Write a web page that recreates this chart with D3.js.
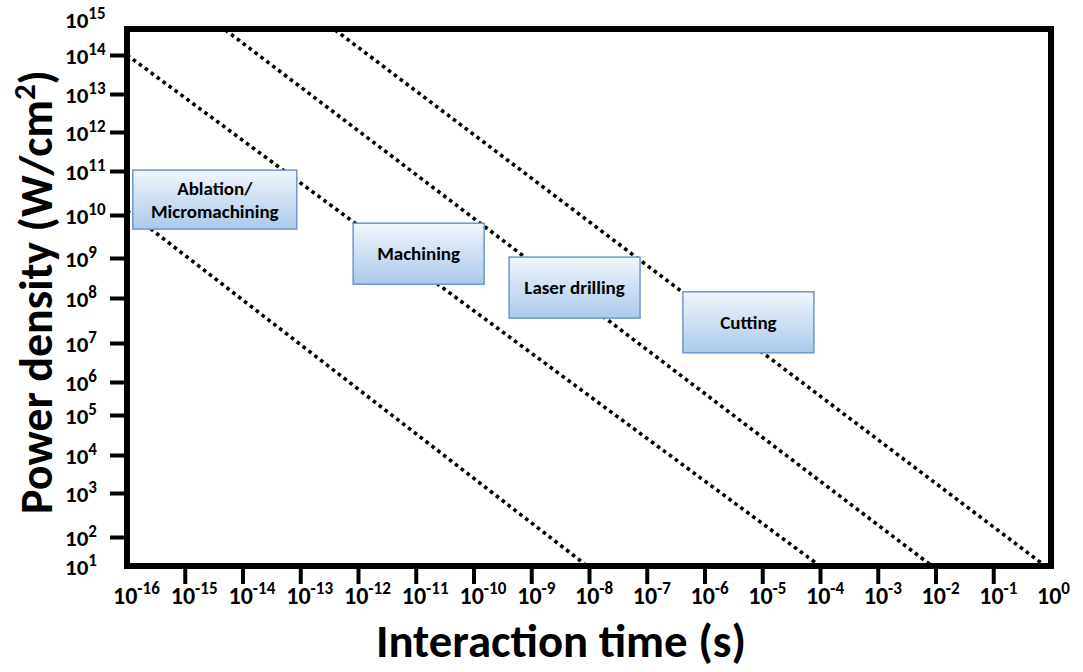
<!DOCTYPE html>
<html><head><meta charset="utf-8">
<script src="https://cdn.jsdelivr.net/npm/d3@7"></script>
<style>
body{margin:0;background:#fff}
svg{display:block}
text{font-family:Carlito, Lato, "Open Sans", sans-serif;font-weight:700;fill:#000}
</style>
</head><body>
<svg id="chart" width="1083" height="672"></svg>
<script>
// ---------------- data ----------------
const xTickExponents = [-16,-15,-14,-13,-12,-11,-10,-9,-8,-7,-6,-5,-4,-3,-2,-1,0];
const yTickExponents = [1,2,3,4,5,6,7,8,9,10,11,12,13,14,15];
const xAxisTitle = "Interaction time (s)";
const yAxisTitle = "Power density (W/cm";
// dotted guide lines, in log10 units (start -> end)
const lineStartX = [-16, -16, -14.3, -12.4];
const lineStartY = [10.1, 14, 14.7, 14.7];
const lineEndX   = [-8.03, -4.0, -2.06, -0.1];
const lineEndY   = [1, 1, 1, 1];
// regime boxes: label lines and centre in log10 units
const regionLabels = [["Ablation/","Micromachining"],["Machining"],["Laser drilling"],["Cutting"]];
const regionCenterX = [-14.48, -10.95, -8.25, -5.24];
const regionCenterY = [10.35, 9.10, 8.26, 7.46];

// ---------------- layout ----------------
const plotLeft = 127, plotRight = 1051, plotTop = 29, plotBottom = 566;
// the drawn y axis is hand-spaced: piecewise stops for each decade 1..15
const yStops = [566, 537, 493, 455, 415, 382, 343, 298, 258, 215, 171, 132, 94, 55, 19];
const boxW = [164, 131, 131, 131], boxH = [59, 61, 61, 61];

const svg = d3.select("#chart");
const x = d3.scaleLinear().domain([-16, 0]).range([plotLeft, plotRight]);
const y = d3.scaleLinear().domain(yTickExponents).range(yStops);

// gradient
const defs = svg.append("defs");
const grad = defs.append("linearGradient").attr("id","boxGrad").attr("x1",0).attr("y1",0).attr("x2",0).attr("y2",1);
grad.append("stop").attr("offset","0%").attr("stop-color","#f1f6fc");
grad.append("stop").attr("offset","100%").attr("stop-color","#abc9ea");

// dotted lines
const lineGen = d3.line().x(d => x(d[0])).y(d => y(d[1]));
lineStartX.forEach((_, i) => {
  svg.append("path")
    .attr("d", lineGen([[lineStartX[i], lineStartY[i]], [lineEndX[i], lineEndY[i]]]))
    .attr("fill","none").attr("stroke","#000")
    .attr("stroke-width",3.6).attr("stroke-dasharray","3.6 3.8");
});

// boxes
regionLabels.forEach((lines, i) => {
  const cx = x(regionCenterX[i]), cy = y(regionCenterY[i]);
  const g = svg.append("g");
  g.append("rect")
    .attr("x", cx - boxW[i]/2).attr("y", cy - boxH[i]/2)
    .attr("width", boxW[i]).attr("height", boxH[i])
    .attr("fill","url(#boxGrad)").attr("stroke","#6f97c8").attr("stroke-width",1.5);
  const lh = 23;
  const first = cy + 6.5 - (lines.length - 1) * lh / 2;
  lines.forEach((t, j) => {
    g.append("text").attr("x", cx).attr("y", first + j * lh)
      .attr("text-anchor","middle").attr("font-size",19).text(t);
  });
});

// frame
svg.append("rect")
  .attr("x", plotLeft).attr("y", plotTop)
  .attr("width", plotRight - plotLeft).attr("height", plotBottom - plotTop)
  .attr("fill","none").attr("stroke","#000").attr("stroke-width",6);

// x axis ticks
const xAxis = d3.axisBottom(x).tickValues(xTickExponents.slice(1, -1)).tickSize(18).tickFormat("");
const gx = svg.append("g").attr("transform", `translate(0,${plotBottom})`).call(xAxis);
gx.select(".domain").remove();
gx.selectAll("line").attr("stroke","#000").attr("stroke-width",4);

// y axis ticks
const yAxis = d3.axisLeft(y).tickValues(yTickExponents.slice(1, -1)).tickSize(17).tickFormat("");
const gy = svg.append("g").attr("transform", `translate(${plotLeft},0)`).call(yAxis);
gy.select(".domain").remove();
gy.selectAll("line").attr("stroke","#000").attr("stroke-width",4);

// x tick labels
xTickExponents.forEach(e => {
  const t = svg.append("text").attr("x", x(e) - 14).attr("y", 604).attr("font-size",24);
  t.append("tspan").text("10");
  t.append("tspan").attr("font-size",17).attr("dy",-10).text(String(e));
});

// y tick labels
yTickExponents.forEach(e => {
  const t = svg.append("text").attr("x", 65).attr("y", y(e) + 9).attr("font-size",23);
  t.append("tspan").text("10");
  t.append("tspan").attr("font-size",17).attr("dy",-9).text(String(e));
});

// axis titles
svg.append("text").attr("x", 561).attr("y", 657).attr("text-anchor","middle")
  .attr("font-size",46).attr("textLength",370).attr("lengthAdjust","spacingAndGlyphs").text(xAxisTitle);

const yt = svg.append("text").attr("transform","translate(52,292) rotate(-90)")
  .attr("text-anchor","middle").attr("font-size",46);
yt.append("tspan").text(yAxisTitle);
yt.append("tspan").attr("font-size",31).attr("dy",-17).text("2");
yt.append("tspan").attr("dy",17).text(")");
</script>
</body></html>
